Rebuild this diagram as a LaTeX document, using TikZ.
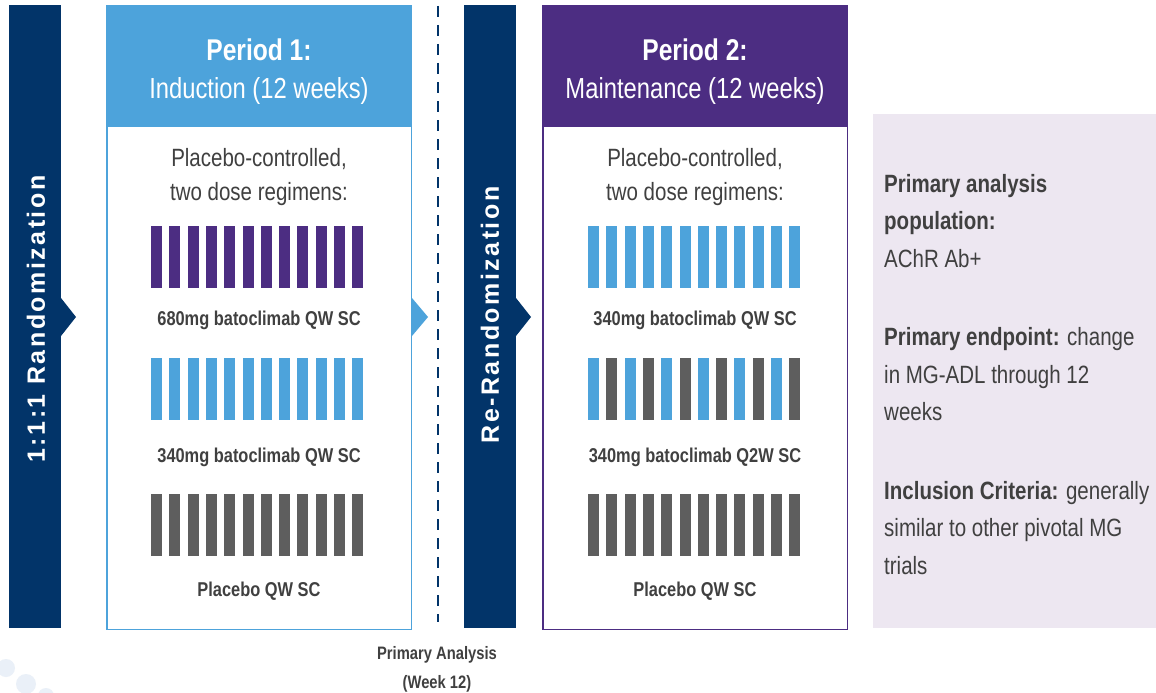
\documentclass[tikz,border=0pt]{standalone}
\usepackage{fontspec}
\setmainfont{Liberation Sans}[FakeStretch=0.82]
\newfontfamily\spacedfont{Liberation Sans}[LetterSpace=10]
\definecolor{navy}{RGB}{2,52,105}
\definecolor{skyblue}{RGB}{77,163,219}
\definecolor{pviolet}{RGB}{76,45,130}
\definecolor{barGray}{RGB}{94,94,94}
\definecolor{txtGray}{RGB}{64,64,64}
\definecolor{lavender}{RGB}{237,231,241}
\definecolor{paleBlue}{RGB}{234,240,248}
\tikzset{
  hdrbold/.style={anchor=base, text=white, inner sep=0pt, font=\fontsize{30}{36}\selectfont\bfseries},
  hdrreg/.style={anchor=base, text=white, inner sep=0pt, font=\fontsize{29}{35}\selectfont},
  subtxt/.style={anchor=base, text=txtGray, inner sep=0pt, font=\fontsize{25}{30}\selectfont},
  barlabel/.style={anchor=base, text=txtGray, inner sep=0pt, font=\fontsize{20}{24}\selectfont\bfseries},
  sidetxt/.style={anchor=base west, text=txtGray, inner sep=0pt, font=\fontsize{25}{30}\selectfont},
  vlabel/.style={text=white, inner sep=0pt, rotate=90, font=\fontsize{25}{30}\spacedfont\bfseries},
  notelabel/.style={anchor=base, text=txtGray, inner sep=0pt, font=\fontsize{18}{22}\selectfont\bfseries}
}
% one row of twelve dose bars; #1 = left x, #2 = top y, #3 = colour list
\newcommand{\dosebars}[3]{%
  \foreach \c [count=\i from 0] in {#3}
    \fill[\c] ({#1+\i*18.3},#2) rectangle ++(11,62);
}
\begin{document}
\begin{tikzpicture}[x=1pt,y=-1pt]
\useasboundingbox (0,0) rectangle (1156,693);
\fill[white] (0,0) rectangle (1156,693);

% faint decorative dots, lower left
\fill[paleBlue] (6,668) circle (9);
\fill[paleBlue] (26,684) circle (10);
\fill[paleBlue] (46,696) circle (8);

% randomization bar
\fill[navy] (9,5) rectangle (61,628);
\fill[navy] (61,298) -- (76,317) -- (61,336) -- cycle;
\node[vlabel] (rand) at (36,319) {1:1:1 Randomization};

% period 1
\draw[skyblue, line width=1.5] (106.75,5.75) rectangle (411.25,629.25);
\fill[skyblue] (106,5) rectangle (412,127);
\fill[skyblue] (412,298) -- (428,317) -- (412,336) -- cycle;
\node[hdrbold] (p1a) at (259,60) {Period 1:};
\node[hdrreg] (p1b) at (259,99) {Induction (12 weeks)};
\node[subtxt] (p1c) at (259,166) {Placebo-controlled,};
\node[subtxt] (p1d) at (259,200) {two dose regimens:};
\dosebars{151}{226}{pviolet,pviolet,pviolet,pviolet,pviolet,pviolet,pviolet,pviolet,pviolet,pviolet,pviolet,pviolet}
\node[barlabel] (p1l1) at (259,325) {680mg batoclimab QW SC};
\dosebars{151}{358}{skyblue,skyblue,skyblue,skyblue,skyblue,skyblue,skyblue,skyblue,skyblue,skyblue,skyblue,skyblue}
\node[barlabel] (p1l2) at (259,462) {340mg batoclimab QW SC};
\dosebars{151}{494}{barGray,barGray,barGray,barGray,barGray,barGray,barGray,barGray,barGray,barGray,barGray,barGray}
\node[barlabel] (p1l3) at (259,596) {Placebo QW SC};

% primary analysis marker
\draw[navy, line width=2, dash pattern=on 11 off 8] (438,6) -- (438,622);
\node[notelabel] (pa1) at (437,659) {Primary Analysis};
\node[notelabel] (pa2) at (437,688) {(Week 12)};

% re-randomization bar
\fill[navy] (464,5) rectangle (516,628);
\fill[navy] (516,298) -- (531,317) -- (516,336) -- cycle;
\node[vlabel] (rerand) at (490,315) {Re-Randomization};

% period 2
\draw[pviolet, line width=1.5] (542.75,5.75) rectangle (847.25,629.25);
\fill[pviolet] (542,5) rectangle (848,127);
\node[hdrbold] (p2a) at (695,60) {Period 2:};
\node[hdrreg] (p2b) at (695,99) {Maintenance (12 weeks)};
\node[subtxt] (p2c) at (695,166) {Placebo-controlled,};
\node[subtxt] (p2d) at (695,200) {two dose regimens:};
\dosebars{588}{226}{skyblue,skyblue,skyblue,skyblue,skyblue,skyblue,skyblue,skyblue,skyblue,skyblue,skyblue,skyblue}
\node[barlabel] (p2l1) at (695,325) {340mg batoclimab QW SC};
\dosebars{588}{358}{skyblue,barGray,skyblue,barGray,skyblue,barGray,skyblue,barGray,skyblue,barGray,skyblue,barGray}
\node[barlabel] (p2l2) at (695,462) {340mg batoclimab Q2W SC};
\dosebars{588}{494}{barGray,barGray,barGray,barGray,barGray,barGray,barGray,barGray,barGray,barGray,barGray,barGray}
\node[barlabel] (p2l3) at (695,596) {Placebo QW SC};

% study summary panel
\fill[lavender] (873,114) rectangle (1156,628);
\node[sidetxt] (s1) at (884,192) {\bfseries Primary analysis};
\node[sidetxt] (s2) at (884,229) {\bfseries population:};
\node[sidetxt] (s3) at (884,267) {AChR Ab+};
\node[sidetxt] (s4) at (884,345) {\textbf{Primary endpoint:} change};
\node[sidetxt] (s5) at (884,383) {in MG-ADL through 12};
\node[sidetxt] (s6) at (884,420) {weeks};
\node[sidetxt] (s7) at (884,499) {\textbf{Inclusion Criteria:} generally};
\node[sidetxt] (s8) at (884,536) {similar to other pivotal MG};
\node[sidetxt] (s9) at (884,574) {trials};
\end{tikzpicture}
\end{document}
